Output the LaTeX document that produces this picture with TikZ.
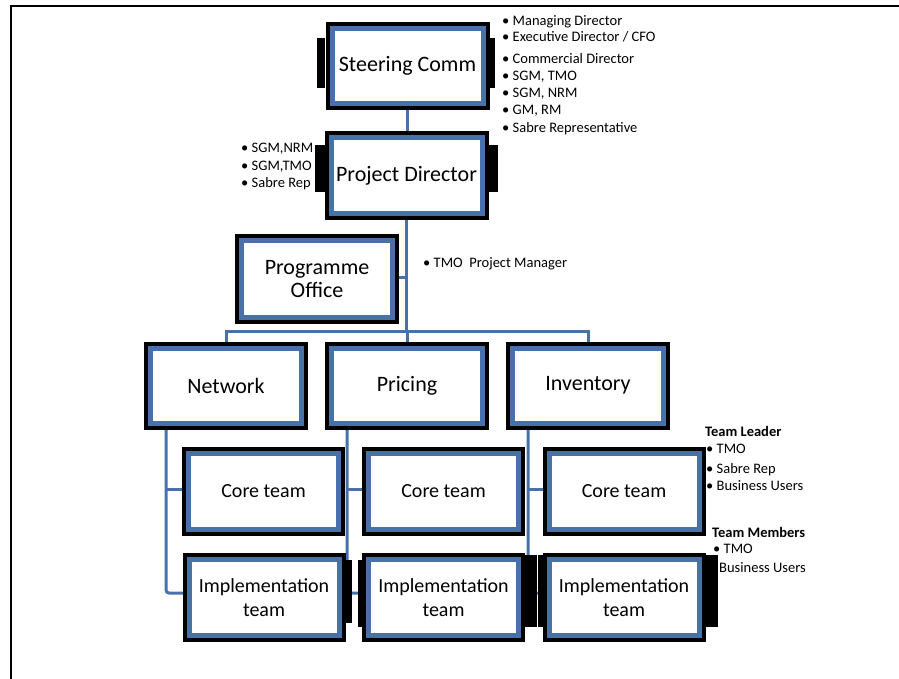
\documentclass[tikz,border=0pt]{standalone}
\usepackage{fontspec}
\setmainfont{Carlito}
\usetikzlibrary{calc,backgrounds}
\definecolor{boxblue}{RGB}{72,113,170}
\begin{document}
\begin{tikzpicture}[x=1pt,y=-1pt,
  orgbox/.style={draw=boxblue, line width=5pt, fill=white, minimum width=151pt, minimum height=75pt,
    inner sep=0pt, outer sep=0pt, align=center, font=\fontsize{22}{23}\selectfont,
    preaction={draw=black, line width=13pt}},
  teambox/.style={orgbox, minimum width=150pt, minimum height=76pt, font=\fontsize{20}{24}\selectfont},
  conn/.style={draw=boxblue, line width=3pt},
  annot/.style={anchor=base west, inner sep=0pt, font=\fontsize{14.5}{16}\selectfont},
  annotb/.style={annot, font=\fontsize{14.5}{16}\selectfont\bfseries},
  tab/.style={fill=black}]
\useasboundingbox (0,0) rectangle (899,679);
\draw[line width=1.5pt] (11,679) -- (11,6) -- (899,6);

% side tabs of the shadows
\fill[tab] (317,38) rectangle (325,88);
\fill[tab] (490,38) rectangle (495,88);
\fill[tab] (315,145) rectangle (325,192);
\fill[tab] (487,145) rectangle (498,192);
\fill[tab] (346,560) rectangle (352,623);
\fill[tab] (358,560) rectangle (363,627);
\fill[tab] (524,555) rectangle (537,627);
\fill[tab] (538,555) rectangle (543,627);
\fill[tab] (705,555) rectangle (718,627);

% boxes
\node[orgbox] (steer) at (407.5,66) {Steering Comm};
\node[orgbox] (pd) at (406.5,175.5) {Project Director};
\node[orgbox, minimum height=77pt] (po) at (317,279) {Programme\\Office};
\node[orgbox] (net) at (226,385.5) {Network};
\node[orgbox] (pri) at (407,385.5) {Pricing};
\node[orgbox] (inv) at (588,385.5) {Inventory};
\node[teambox] (core1) at (263.5,491.5) {Core team};
\node[teambox] (core2) at (443.5,491.5) {Core team};
\node[teambox] (core3) at (624,491.5) {Core team};
\node[teambox] (impl1) at (264,597.5) {Implementation\\team};
\node[teambox] (impl2) at (443.5,597.5) {Implementation\\team};
\node[teambox] (impl3) at (624,597.5) {Implementation\\team};

\coordinate (bus) at (407,331);
\coordinate (nd) at ([xshift=15.5pt]net.south west);
\coordinate (prd) at ([xshift=15.5pt]pri.south west);
\coordinate (ivd) at ([xshift=15.5pt]inv.south west);

\begin{scope}[on background layer]
\draw[conn] (steer.south) -- (steer.south |- pd.north);
\draw[conn] (pd.south) -- (pd.south |- bus);
\draw[conn] ([yshift=2pt]po.east) -- ([yshift=2pt]po.east -| pd.south);
\draw[conn] (net.north) -- (net.north |- bus) -- (inv.north |- bus) -- (inv.north);
\draw[conn] (pri.north) -- (pri.north |- bus);
\draw[conn, rounded corners=3pt] (nd) |- ([yshift=4.5pt]impl1.west);
\draw[conn] ([yshift=2.5pt]core1.west) -- ([yshift=2.5pt]core1.west -| nd);
\draw[conn, rounded corners=3pt] (prd) |- ([yshift=4.5pt]impl2.west);
\draw[conn] ([yshift=2.5pt]core2.west) -- ([yshift=2.5pt]core2.west -| prd);
\draw[conn, rounded corners=3pt] (ivd) |- ([yshift=4.5pt]impl3.west);
\draw[conn] ([yshift=2.5pt]core3.west) -- ([yshift=2.5pt]core3.west -| ivd);
\end{scope}

% annotations
\node[annot] (s1) at (502,26) {• Managing Director};
\node[annot] (s2) at (502,42) {• Executive Director / CFO};
\node[annot] (s3) at (502,64) {• Commercial Director};
\node[annot] (s4) at (502,81) {• SGM, TMO};
\node[annot] (s5) at (502,98) {• SGM, NRM};
\node[annot] (s6) at (502,115) {• GM, RM};
\node[annot] (s7) at (502,133) {• Sabre Representative};

\node[annot] (p1) at (241,153) {• SGM,NRM};
\node[annot] (p2) at (241,171) {• SGM,TMO};
\node[annot] (p3) at (241,188) {• Sabre Rep};

\node[annot] (tm) at (423,267) {• TMO\ \ Project Manager};

\node[annotb] (tl) at (705,436) {Team Leader};
\node[annot] (tl1) at (706,453) {• TMO};
\node[annot] (tl2) at (706,473) {• Sabre Rep};
\node[annot] (tl3) at (706,490) {• Business Users};
\node[annotb] (tmm) at (712,537) {Team Members};
\node[annot] (tm1) at (713,553) {• TMO};
\node[annot] (tm2) at (719,572) {Business Users};
\end{tikzpicture}
\end{document}
